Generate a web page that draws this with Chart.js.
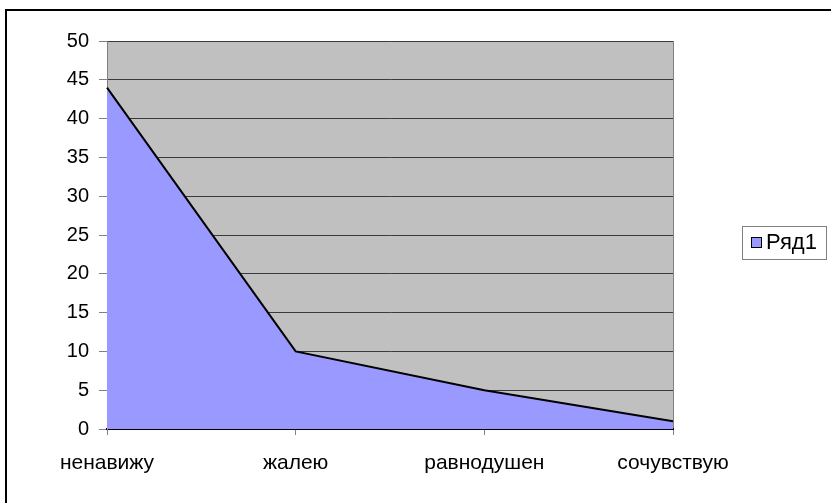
<!DOCTYPE html>
<html>
<head>
<meta charset="utf-8">
<script src="https://cdn.jsdelivr.net/npm/chart.js@4/dist/chart.umd.min.js"></script>
<style>
  html, body { margin: 0; padding: 0; background: #fff; }
  #wrap { width: 831px; height: 503px; position: relative; }
</style>
</head>
<body>
<div id="wrap"><canvas id="chart" width="831" height="503"></canvas></div>
<script>
// ─── данные ──────────────────────────────────────────────
const categories = ['ненавижу', 'жалею', 'равнодушен', 'сочувствую'];
const values     = [44, 10, 5, 1];
const seriesName = 'Ряд1';
const yMin = 0, yMax = 50, yStep = 5;

const FONT   = { family: '"Liberation Sans", Arial, sans-serif', size: 20 };
const FONT_X = { family: '"Liberation Sans", Arial, sans-serif', size: 21 };

// фон области построения + рамка листа
const backdrop = {
  id: 'backdrop',
  beforeDraw(chart) {
    const { ctx, chartArea: a } = chart;
    ctx.save();
    ctx.fillStyle = '#fff';
    ctx.fillRect(0, 0, chart.width, chart.height);
    ctx.fillStyle = '#000';
    ctx.fillRect(5, 9, chart.width, 2);
    ctx.fillRect(5, 9, 2, chart.height);
    ctx.fillStyle = '#c0c0c0';
    ctx.fillRect(a.left, a.top, a.right - a.left, a.bottom - a.top);
    ctx.strokeStyle = '#808080';
    ctx.lineWidth = 1;
    ctx.strokeRect(a.left + 0.5, a.top + 0.5, a.right - a.left, a.bottom - a.top);
    ctx.restore();
  },
};

// легенда справа в рамке
const boxLegend = {
  id: 'boxLegend',
  afterDraw(chart) {
    const { ctx } = chart;
    const ds = chart.data.datasets[0];
    ctx.save();
    ctx.fillStyle = '#fff';
    ctx.fillRect(742, 226, 84, 33);
    ctx.strokeStyle = '#808080';
    ctx.lineWidth = 1;
    ctx.strokeRect(742.5, 226.5, 84, 33);
    ctx.fillStyle = ds.backgroundColor;
    ctx.fillRect(751, 237, 11, 11);
    ctx.strokeStyle = '#000';
    ctx.strokeRect(751.5, 237.5, 10, 10);
    ctx.fillStyle = '#000';
    ctx.font = `22px ${FONT.family}`;
    ctx.textBaseline = 'middle';
    ctx.fillText(ds.label, 766, 243);
    ctx.restore();
  },
};

new Chart(document.getElementById('chart'), {
  type: 'line',
  data: {
    labels: categories,
    datasets: [{
      label: seriesName,
      data: values,
      fill: 'origin',
      backgroundColor: '#9999ff',
      borderColor: '#000',
      borderWidth: 2,
      pointRadius: 0,
      tension: 0,
    }],
  },
  options: {
    responsive: false,
    animation: false,
    layout: { padding: { top: 41, right: 158, left: 0, bottom: 0 } },
    plugins: { legend: { display: false }, tooltip: { enabled: false } },
    scales: {
      x: {
        offset: false,
        afterFit: s => { s.height = 74; },
        grid: { drawOnChartArea: false, tickLength: 6, color: '#808080' },
        border: { color: '#000', width: 2 },
        ticks: { color: '#000', font: FONT_X, padding: 16, autoSkip: false, maxRotation: 0 },
      },
      y: {
        min: yMin, max: yMax,
        afterFit: s => { s.width = 107; },
        grid: { color: '#3a3a3a', tickLength: 8, tickColor: '#808080' },
        border: { color: '#808080' },
        ticks: { stepSize: yStep, color: '#000', font: FONT, padding: 10 },
      },
    },
  },
  plugins: [backdrop, boxLegend],
});
</script>
</body>
</html>
